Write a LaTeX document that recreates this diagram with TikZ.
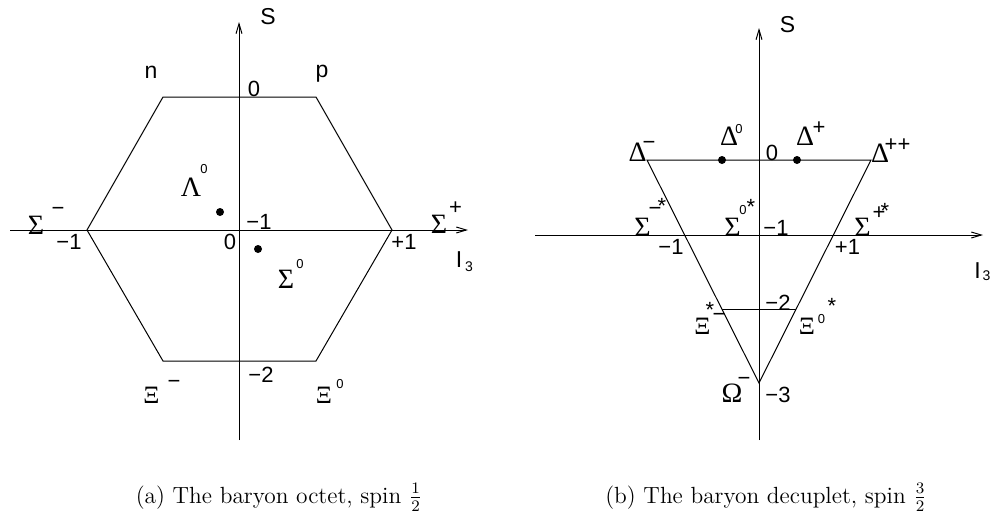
\documentclass[tikz,border=0pt]{standalone}
\usepackage{fontspec}
\newfontfamily\lsans{Liberation Sans}
\newfontfamily\lserif{Liberation Serif}
\usetikzlibrary{arrows.meta,calc}
\begin{document}
\begin{tikzpicture}[x=0.5pt,y=-0.5pt,
  axisline/.style={line width=0.5pt,-{Straight Barb[length=5pt,width=3pt,line width=0.5pt]}},
  edge/.style={line width=0.5pt},
  num/.style={inner sep=0pt,font=\lsans\fontsize{11}{13}\selectfont},
  axlab/.style={inner sep=0pt,font=\lsans\fontsize{11.5}{13}\selectfont},
  gk/.style={inner sep=0pt,font=\lserif\fontsize{14}{16}\selectfont},
  xi/.style={inner sep=0pt,font=\lserif\fontsize{12.5}{14}\selectfont},
  zsup/.style={inner sep=0pt,font=\lsans\fontsize{6.5}{7}\selectfont},
  sgn/.style={inner sep=0pt,anchor=north,font=\lsans\fontsize{11}{13}\selectfont},
  idx/.style={inner sep=0pt,font=\lsans\fontsize{7}{8}\selectfont},
  captext/.style={inner sep=0pt,anchor=base,font=\fontsize{11.7}{14}\selectfont},
  pt/.style={fill=black}]
\useasboundingbox (0,0) rectangle (991,520);

% ---------- (a) octet ----------
\coordinate (aXl) at (10,230);
\coordinate (aXr) at (468,230);
\coordinate (aYb) at (239,440);
\coordinate (aYt) at (239,22);
\draw[axisline] (aXl) -- (aXr);
\draw[axisline] (aYb) -- (aYt);
\coordinate (hL) at (87,230);
\coordinate (hN) at (163,97);
\coordinate (hP) at (316,97);
\coordinate (hR) at (392,230);
\coordinate (hX0) at (316,361);
\coordinate (hXm) at (163,361);
\draw[edge] (hL) -- (hN) -- (hP) -- (hR) -- (hX0) -- (hXm) -- cycle;
\fill[pt] (220,212) circle (2pt) coordinate (dL);
\fill[pt] (258,249) circle (2pt) coordinate (dS);

\node[axlab] (aS) at (268,17) {S};
\node[axlab] (aI) at (459,260) {I};
\node[idx] (aI3) at (469,267) {3};
\node[axlab] (an) at (151,72) {n};
\node[axlab] (ap) at (322,74) {p};
\node[num] (a0t) at (254,89) {0};
\node[num] (am1) at (259,222) {−1};
\node[num] (a0) at (230,242) {0};
\node[num] (aml) at (69,242) {−1};
\node[num] (apl) at (404,242) {+1};
\node[num] (am2) at (261,374.5) {−2};
\node[gk] (aLam) at (191,187) {Λ};
\node[zsup] (aLam0) at (204,169) {0};
\node[gk] (aSig0) at (286,279) {Σ};
\node[zsup] (aSig00) at (300,264) {0};
\node[gk] (aSigm) at (36,225) {Σ};
\node[sgn] (aSigmm) at (58,207) {−};
\node[gk] (aSigp) at (439,224) {Σ};
\node[sgn] (aSigpp) at (455.5,201.5) {+};
\node[xi] (aXim) at (151.5,395) {Ξ};
\node[sgn] (aXimm) at (174,380) {−};
\node[xi] (aXi0) at (324,395) {Ξ};
\node[zsup] (aXi00) at (340,384) {0};

% ---------- (b) decuplet ----------
\coordinate (bXl) at (535,235);
\coordinate (bXr) at (983,235);
\coordinate (bYb) at (759,440);
\coordinate (bYt) at (759,28);
\draw[axisline] (bXl) -- (bXr);
\draw[axisline] (bYb) -- (bYt);
\coordinate (tDm) at (647,160);
\coordinate (tDpp) at (871,160);
\coordinate (tOm) at (759,383);
\draw[edge] (tDm) -- (tDpp) -- (tOm) -- cycle;
\coordinate (xiL) at ($(tDm)!0.6726!(tOm)$);
\coordinate (xiR) at ($(tDpp)!0.6726!(tOm)$);
\draw[edge] (xiL) -- (xiR);
\fill[pt] (722,160) circle (2pt) coordinate (dD0);
\fill[pt] (797,160) circle (2pt) coordinate (dDp);

\node[axlab] (bS) at (787.5,25) {S};
\node[axlab] (bI) at (977.5,271) {I};
\node[idx] (bI3) at (986.5,276) {3};
\node[num] (b0t) at (772,153) {0};
\node[num] (bm1) at (776,227.5) {−1};
\node[num] (bml) at (671,247) {−1};
\node[num] (bpl) at (847.5,247) {+1};
\node[num] (bm2) at (778,302.5) {−2};
\node[num] (bm3) at (778,395) {−3};
\node[gk] (bDm) at (637.5,152) {Δ};
\node[sgn] (bDmm) at (649,141) {−};
\node[gk] (bD0) at (729,136) {Δ};
\node[zsup] (bD00) at (739,129) {0};
\node[gk] (bDp) at (805,136) {Δ};
\node[sgn] (bDpp) at (819,121.5) {+};
\node[gk] (bDpp2) at (880,153) {Δ};
\node[sgn] (bDppp) at (897.5,138) {++};
\node[gk] (bSm) at (642.5,227) {Σ};
\node[sgn] (bSmm) at (655,206.5) {−};
\node[sgn] (bSms) at (662,197.5) {*};
\node[gk] (bS0) at (732.5,227) {Σ};
\node[zsup] (bS00) at (743,210) {0};
\node[sgn] (bS0s) at (751,198.5) {*};
\node[gk] (bSp) at (862.5,227) {Σ};
\node[sgn] (bSpp) at (879,206.5) {+};
\node[sgn] (bSps) at (885,203) {*};
\node[xi] (bXm) at (702.5,326) {Ξ};
\node[sgn] (bXmm) at (719,313.3) {−};
\node[sgn] (bXms) at (710,301.5) {*};
\node[xi] (bX0) at (807,326) {Ξ};
\node[zsup] (bX00) at (821.5,319) {0};
\node[sgn] (bX0s) at (832,297.5) {*};
\node[gk] (bOm) at (732,393) {Ω};
\node[sgn] (bOmm) at (744,377) {−};

% ---------- captions ----------
\node[captext] (capa) at (279,503) {(a) The baryon octet, spin $\frac12$};
\node[captext] (capb) at (766,503) {(b) The baryon decuplet, spin $\frac32$};
\end{tikzpicture}
\end{document}
